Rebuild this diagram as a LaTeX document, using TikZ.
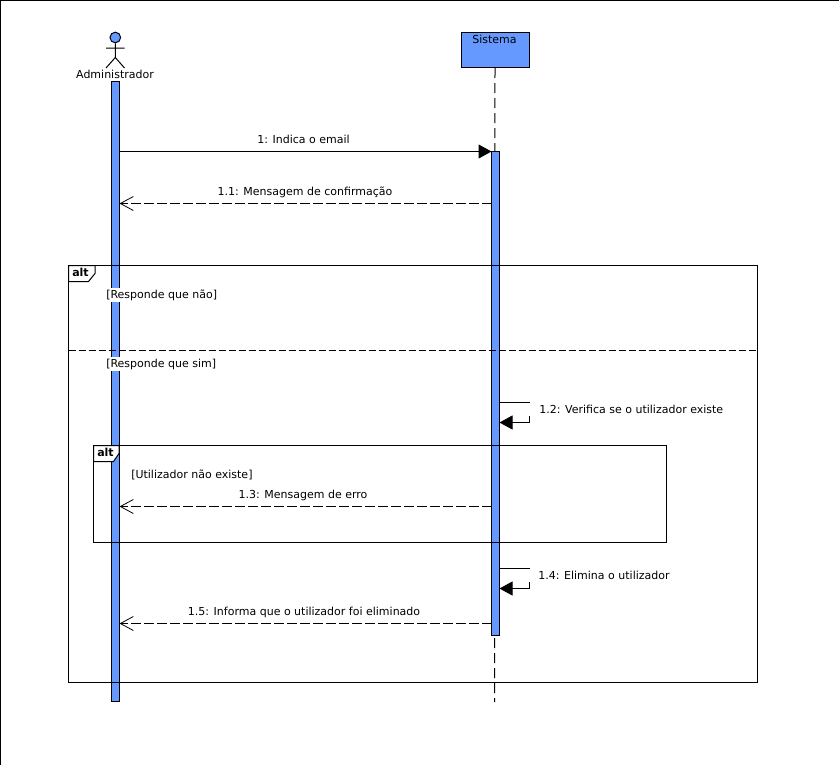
\documentclass[tikz,border=0pt]{standalone}
\usepackage{fontspec}
\setmainfont{DejaVu Sans}
\usetikzlibrary{arrows.meta,calc}
\definecolor{umlblue}{HTML}{6699FF}
\tikzset{
  x=0.75pt,y=-0.75pt,
  every node/.style={font=\fontsize{8.25pt}{10pt}\selectfont,inner sep=0pt,text=black},
  uml/.style={draw=black,line width=0.75pt},
  actbar/.style={uml,fill=umlblue,minimum width=6pt,outer sep=0pt,anchor=north west},
  headbox/.style={uml,fill=umlblue,minimum width=51pt,minimum height=26.25pt,anchor=north west},
  lifeline/.style={uml,dash pattern=on 7.5pt off 3.75pt},
  syncmsg/.style={uml,-{Triangle[length=9.75pt,width=10.5pt,fill=black]}},
  selfmsg/.style={uml,-{Triangle[length=9.75pt,width=10.5pt,fill=black]}},
  replymsg/.style={uml,dash pattern=on 7.5pt off 2.25pt,-{Straight Barb[length=9.75pt,width=10.5pt,line width=0.6pt]}},
  framebox/.style={uml},
  framesep/.style={uml,dash pattern=on 5.25pt off 2.25pt},
  framelabel/.style={uml,fill=white,line join=miter},
  framename/.style={font=\fontsize{8.25pt}{10pt}\selectfont\bfseries,text=black},
  msglabel/.style={anchor=center},
  guard/.style={fill=white,anchor=west,inner xsep=0pt,inner ysep=1pt},
}
\begin{document}
\begin{tikzpicture}
\useasboundingbox[fill=white] (0,0) rectangle (839,765);
\draw[uml] (0,765) -- (0,0) -- (839,0);
% actor
\node[circle,uml,fill=umlblue,minimum size=8pt] (ahead) at (115.3,37.5) {};
\coordinate (hip) at (115.3,57.5);
\coordinate (armL) at (106,48);
\coordinate (armR) at (124.5,48);
\coordinate (legL) at (106,68);
\coordinate (legR) at (124.5,68);
\draw[uml] (ahead.south) -- (hip) (armL) -- (armR) (legL) -- (hip) -- (legR);
\node (alabel) at (115,74) {Administrador};
% Sistema
\node[headbox] (shead) at (460.5,32) {};
\node[anchor=center] (slabel) at (494.5,39.5) {Sistema};
\coordinate (lifeEnd) at (494.5,702);
\draw[lifeline] (shead.south) -- (lifeEnd);
% activation bars
\node[actbar,minimum height=465pt] (abar) at (111.5,81.5) {};
\node[actbar,minimum height=363pt] (sbar) at (491.5,151.5) {};
% messages
\coordinate (m1) at (0,151.5);
\coordinate (m2) at (0,203.5);
\coordinate (m3) at (0,506.5);
\coordinate (m4) at (0,623.5);
\draw[syncmsg] (abar.east |- m1) -- (sbar.west |- m1);
\draw[replymsg] (sbar.west |- m2) -- (abar.east |- m2);
\draw[replymsg] (sbar.west |- m3) -- (abar.east |- m3);
\draw[replymsg] (sbar.west |- m4) -- (abar.east |- m4);
\node[msglabel] (t1) at (303.5,139) {1: Indica o email};
\node[msglabel] (t2) at (305,192) {1.1: Mensagem de confirmação};
\node[msglabel] (t3) at (303,495) {1.3: Mensagem de erro};
\node[msglabel] (t5) at (304,612) {1.5: Informa que o utilizador foi eliminado};
% self messages
\coordinate (s1a) at (529.5,402.5);
\coordinate (s1b) at (529.5,416);
\coordinate (s1c) at (529.5,422.5);
\coordinate (s2a) at (529.5,568.5);
\coordinate (s2b) at (529.5,582);
\coordinate (s2c) at (529.5,588.5);
\draw[uml] (sbar.east |- s1a) -- (s1a);
\draw[selfmsg] (s1b) -- (s1c) -- (sbar.east |- s1c);
\draw[uml] (sbar.east |- s2a) -- (s2a);
\draw[selfmsg] (s2b) -- (s2c) -- (sbar.east |- s2c);
\node[anchor=west] (t12) at (539,409) {1.2: Verifica se o utilizador existe};
\node[anchor=west] (t14) at (538,575) {1.4: Elimina o utilizador};
% outer alt
\draw[framebox] (68.5,265.5) rectangle (757.5,682.5);
\draw[framesep] (68.5,350.5) -- (757.5,350.5);
\draw[framelabel] (68.5,265.5) -- (95,265.5) -- (95,273.5) -- (88.5,281.5) -- (68.5,281.5) -- cycle;
\node[framename] (alt1) at (80.5,272.5) {alt};
\node[guard] (g1) at (106,295) {[Responde que não]};
\node[guard] (g2) at (106,364) {[Responde que sim]};
% inner alt
\draw[framebox] (93.5,445.5) rectangle (666.5,542.5);
\draw[framelabel] (93.5,445.5) -- (119,445.5) -- (119,453.5) -- (113.5,461.5) -- (93.5,461.5) -- cycle;
\node[framename] (alt2) at (105.5,452.5) {alt};
\node[guard,fill=none] (g3) at (131,474.5) {[Utilizador não existe]};
\end{tikzpicture}
\end{document}
